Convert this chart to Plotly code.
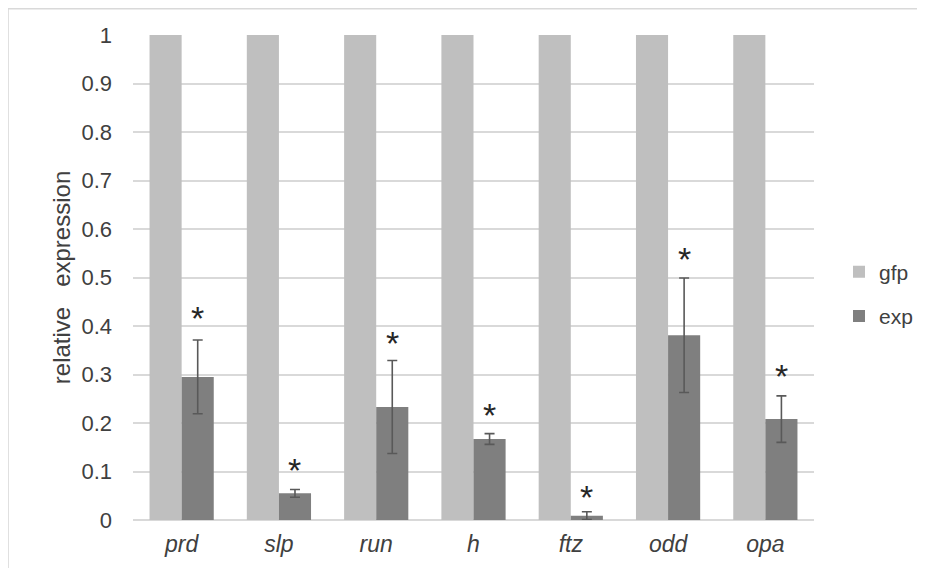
import plotly.graph_objects as go

genes = ["prd", "slp", "run", "h", "ftz", "odd", "opa"]
gfp = [1, 1, 1, 1, 1, 1, 1]
exp_vals = [0.295, 0.055, 0.233, 0.167, 0.009, 0.381, 0.208]
exp_err = [0.076, 0.008, 0.096, 0.011, 0.008, 0.118, 0.048]
star_y = [0.427, 0.113, 0.375, 0.227, 0.058, 0.548, 0.308]
y_ticks = [0, 0.1, 0.2, 0.3, 0.4, 0.5, 0.6, 0.7, 0.8, 0.9, 1]
y_tick_text = ["0", "0.1", "0.2", "0.3", "0.4", "0.5", "0.6", "0.7", "0.8", "0.9", "1"]

tick_labels = ["<i>%s</i>" % g for g in genes]

FONT = "Liberation Sans, Arial"
TXT = "#404040"

# page has an 8px body margin; figure is sized/margined to compensate
W, H = 909, 560
L, R, T, B = 125, 103, 27, 48
PW, PH = W - L - R, H - T - B


def px_x(p):
    return (p - L) / PW


def px_y(q):
    return (T + PH - q) / PH


fig = go.Figure()
fig.add_trace(go.Bar(x=genes, y=gfp, name="gfp", legendgroup="a",
                     marker=dict(color="#BFBFBF", line=dict(width=0))))
fig.add_trace(go.Bar(
    x=genes, y=exp_vals, name="exp", legendgroup="b",
    marker=dict(color="#7F7F7F", line=dict(width=0)),
    error_y=dict(type="data", array=exp_err, visible=True, color="#595959", thickness=1.6, width=5),
))

for g, sy in zip(genes, star_y):
    fig.add_annotation(
        x=g, y=sy, text="*", showarrow=False, xshift=16,
        font=dict(family=FONT, size=34, color="#262626"),
        yanchor="middle", yshift=-5,
    )

# light frame lines (top and left only)
fig.add_shape(type="line", xref="paper", yref="paper",
              x0=px_x(0), x1=px_x(W), y0=px_y(0.8), y1=px_y(0.8),
              line=dict(color="#D9D9D9", width=1.6))
fig.add_shape(type="line", xref="paper", yref="paper",
              x0=px_x(0), x1=px_x(0), y0=px_y(0), y1=px_y(H),
              line=dict(color="#D9D9D9", width=1.6))

fig.update_layout(
    width=W, height=H,
    margin=dict(l=L, r=R, t=T, b=B, autoexpand=False),
    paper_bgcolor="white", plot_bgcolor="white",
    barmode="group", bargap=0.34, bargroupgap=0,
    font=dict(family=FONT, size=21, color=TXT),
    showlegend=True,
    legend=dict(x=px_x(831), y=px_y(286), xanchor="left", yanchor="middle",
                font=dict(size=21, color=TXT), tracegroupgap=14,
                itemwidth=30, bgcolor="rgba(0,0,0,0)", borderwidth=0),
    xaxis=dict(tickmode="array", tickvals=genes, ticktext=tick_labels,
               showgrid=False, showline=False, ticks="", ticklabelstandoff=8,
               tickfont=dict(size=23, color=TXT)),
    yaxis=dict(range=[0, 1], tickmode="array", tickvals=y_ticks, ticktext=y_tick_text,
               showgrid=True, gridcolor="#D9D9D9", gridwidth=1.6,
               zeroline=True, zerolinecolor="#D9D9D9", zerolinewidth=1.6,
               showline=False, ticks="", ticklabelstandoff=20,
               tickfont=dict(size=22, color=TXT),
               title=dict(text="relative\u00a0\u00a0\u00a0expression", standoff=4,
                          font=dict(size=24, color=TXT))),
)

fig.write_html("out.html")
